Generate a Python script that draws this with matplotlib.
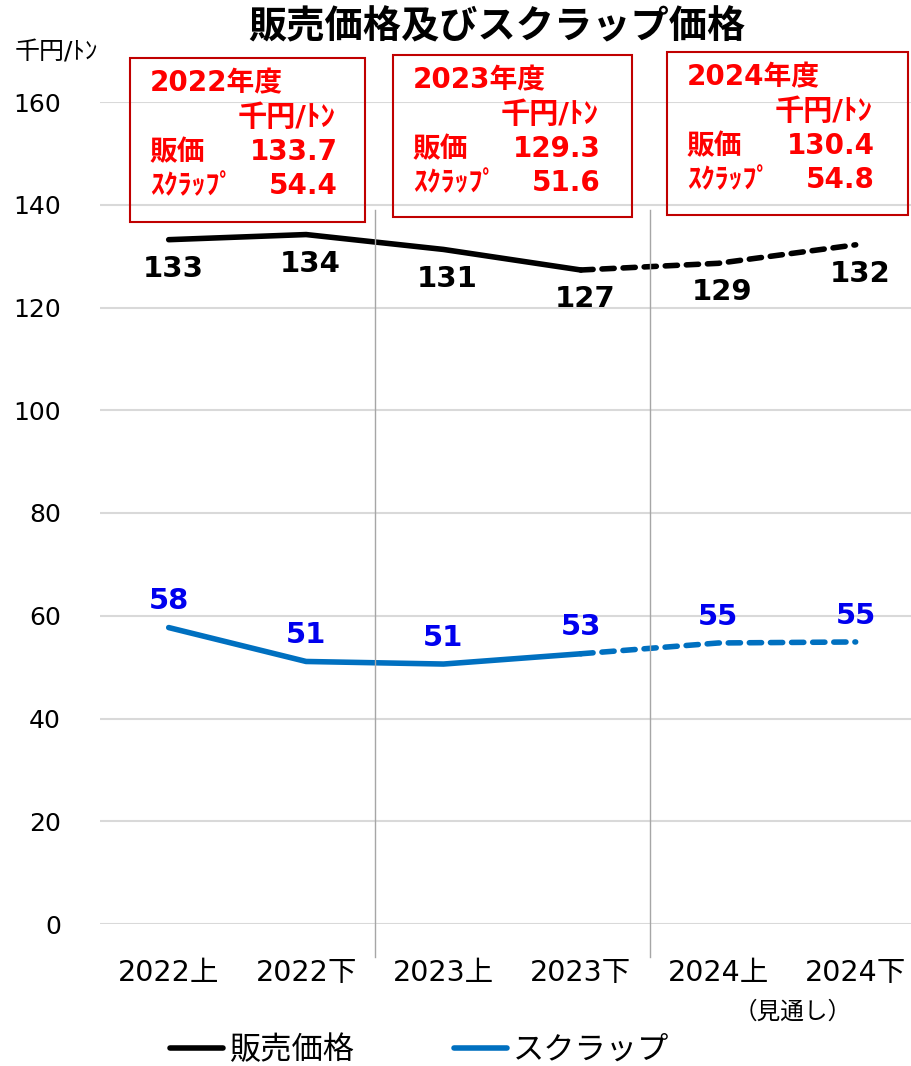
import matplotlib
matplotlib.use("Agg")
import matplotlib.pyplot as plt
from matplotlib.patches import Rectangle

# DejaVu for the (wide, Verdana-like) digits, Noto CJK for the Japanese glyphs
plt.rcParams['font.family'] = ['DejaVu Sans', 'Noto Sans CJK JP']

# data
periods = ["2022上", "2022下", "2023上", "2023下", "2024上", "2024下"]
price = [133.2, 134.2, 131.3, 127.3, 128.6, 132.2]
scrap = [57.7, 51.1, 50.6, 52.6, 54.7, 54.9]
price_labels = ["133", "134", "131", "127", "129", "132"]
scrap_labels = ["58", "51", "51", "53", "55", "55"]
n_actual = 4  # first 4 periods are actual, rest is forecast

fy_names = ["2022年度", "2023年度", "2024年度"]
fy_price = ["133.7", "129.3", "130.4"]
fy_scrap = ["54.4", "51.6", "54.8"]

W, H = 912, 1066
fig = plt.figure(figsize=(W / 100, H / 100), dpi=100)
ax = fig.add_axes([100 / W, 1 - 924 / H, 812 / W, 822 / H])

x = list(range(len(periods)))
black = "#000000"
blue_line = "#0070C0"
blue_text = "#0000EE"

ax.plot(x[:n_actual], price[:n_actual], color=black, lw=4, solid_capstyle="round", label="販売価格")
ax.plot(x[n_actual - 1:], price[n_actual - 1:], color=black, lw=4, ls=(0, (2.2, 1.6)), dash_capstyle="round")
ax.plot(x[:n_actual], scrap[:n_actual], color=blue_line, lw=4, solid_capstyle="round", label="スクラップ")
ax.plot(x[n_actual - 1:], scrap[n_actual - 1:], color=blue_line, lw=4, ls=(0, (2.2, 1.6)), dash_capstyle="round")

for i in x:
    ax.annotate(price_labels[i], (i, price[i]), xytext=(3, -21), textcoords="offset points",
                ha="center", va="center", fontsize=21, fontweight="bold", color=black)
    ax.annotate(scrap_labels[i], (i, scrap[i]), xytext=(0, 19), textcoords="offset points",
                ha="center", va="center", fontsize=21, fontweight="bold", color=blue_text)

ax.set_xlim(-0.5, 5.41)
ax.set_ylim(0, 160)
ax.set_yticks(range(0, 161, 20))
ax.set_xticks(x)
ax.set_xticklabels(periods, fontsize=20.5)
ax.tick_params(axis="y", labelsize=18, length=0, pad=28)
ax.tick_params(axis="x", length=0, pad=25)
ax.grid(axis="y", color="#D9D9D9", lw=1.5)
ax.set_axisbelow(True)
for s in ax.spines.values():
    s.set_visible(False)

# fiscal year separators
for sx in [1.5, 3.5]:
    ax.plot([sx, sx], [-6.5, 139], color="#A6A6A6", lw=1, clip_on=False)

fig.text(793 / W, 1 - 1012 / H, "（見通し）", fontsize=17, ha="center", va="center")

fig.text(497 / W, 1 - 28 / H, "販売価格及びスクラップ価格", fontsize=27.5, fontweight="bold",
         ha="center", va="center")
fig.text(15 / W, 1 - 52 / H, "千円/ﾄﾝ", fontsize=18, ha="left", va="center")

# fiscal year boxes
boxes = [(130, 58, 235, 164), (393, 55, 239, 162), (667, 52, 241, 163)]
red = "#FF0000"
fs = 20
for (bx, by, bw, bh), name, pv, sv in zip(boxes, fy_names, fy_price, fy_scrap):
    fig.patches.append(Rectangle((bx / W, 1 - (by + bh) / H), bw / W, bh / H,
                                 transform=fig.transFigure, fill=False,
                                 edgecolor="#C00000", lw=1.5))
    tx = bx + 20
    fig.text(tx / W, 1 - (by + 25) / H, name, fontsize=fs, fontweight="bold", color=red, va="center")
    fig.text((bx + 108) / W, 1 - (by + 60) / H, "千円/ﾄﾝ", fontsize=21, fontweight="bold", color=red, va="center")
    fig.text(tx / W, 1 - (by + 94) / H, "販価", fontsize=fs, fontweight="bold", color=red, va="center")
    fig.text((bx + 208) / W, 1 - (by + 94) / H, pv, fontsize=fs, fontweight="bold", color=red,
             va="center", ha="right")
    fig.text(tx / W, 1 - (by + 128) / H, "ｽｸﾗｯﾌﾟ", fontsize=fs, fontweight="bold", color=red, va="center")
    fig.text((bx + 208) / W, 1 - (by + 128) / H, sv, fontsize=fs, fontweight="bold", color=red,
             va="center", ha="right")

fig.legend(loc="center", bbox_to_anchor=(0.46, 1 - 1050 / H), ncol=2, frameon=False,
           fontsize=22.5, handlelength=1.7, columnspacing=3.2, handletextpad=0.2)

fig.savefig("out.png", dpi=100)
